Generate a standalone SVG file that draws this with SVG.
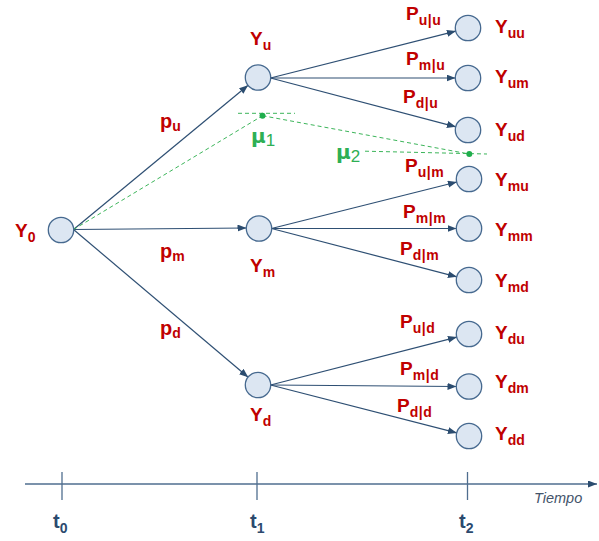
<svg xmlns="http://www.w3.org/2000/svg" width="599" height="541" viewBox="0 0 599 541">
<defs>
<marker id="arr" markerUnits="userSpaceOnUse" markerWidth="10" markerHeight="8" refX="9" refY="3.5" orient="auto">
<path d="M0,0 L9,3.5 L0,7 z" fill="#2b4c6f"/>
</marker>
<marker id="axarr" markerUnits="userSpaceOnUse" markerWidth="10" markerHeight="8" refX="9" refY="3.5" orient="auto">
<path d="M0,0 L9,3.5 L0,7 z" fill="#2b4c6f"/>
</marker>
</defs>
<style>
.nd{fill:#dce6f2;stroke:#46698f;stroke-width:1.3}
.ed{stroke:#2e4f73;stroke-width:1.2;fill:none;marker-end:url(#arr)}
.gr{stroke:#3cb55a;stroke-width:1;stroke-dasharray:4 3;fill:none}
.lb{font-family:"Liberation Sans",Arial,sans-serif;font-weight:bold;font-size:19px;fill:#c00000}
.pl{font-family:"Liberation Sans",Arial,sans-serif;font-weight:bold;font-size:20px;fill:#c00000}
.sb{font-size:14px}
.ps{font-size:14px;letter-spacing:0.6px}
.mu{font-family:"DejaVu Sans","Liberation Sans",sans-serif;font-weight:bold;font-size:20px;fill:#2eaf54}
.ms{font-family:"Liberation Sans",Arial,sans-serif;font-weight:normal;font-size:17px}
.tl{font-family:"Liberation Sans",Arial,sans-serif;font-weight:bold;font-size:20px;fill:#2c4a6e}
.ax{stroke:#4f6e8f;stroke-width:1.3;fill:none}
.tp{font-family:"Liberation Sans",Arial,sans-serif;font-style:italic;font-size:14.5px;fill:#44546a}
</style>

<g id="connectors">
<line class="ed" x1="73.5" y1="229.5" x2="248.1" y2="85.2"/>
<line class="ed" x1="73.5" y1="229.5" x2="246.5" y2="228"/>
<line class="ed" x1="73.5" y1="229.5" x2="248.2" y2="377.3"/>
<line class="ed" x1="270.5" y1="78" x2="455.9" y2="31.1"/>
<line class="ed" x1="270.5" y1="78" x2="455.5" y2="78"/>
<line class="ed" x1="270.5" y1="78" x2="455.9" y2="126.8"/>
<line class="ed" x1="271.5" y1="228.5" x2="456.9" y2="182"/>
<line class="ed" x1="271.5" y1="228.5" x2="456.5" y2="228.5"/>
<line class="ed" x1="271.5" y1="228.5" x2="456.9" y2="276.8"/>
<line class="ed" x1="270.5" y1="385" x2="456.9" y2="337.1"/>
<line class="ed" x1="270.5" y1="385" x2="456.5" y2="386.5"/>
<line class="ed" x1="270.5" y1="385" x2="456.9" y2="432.9"/>
</g>

<g id="expectations">
<line class="gr" x1="73.5" y1="229.5" x2="262.5" y2="115.7"/>
<line class="gr" x1="262.5" y1="115.7" x2="469.3" y2="154"/>
<line class="gr" x1="238" y1="113.3" x2="295" y2="113.3"/>
<line class="gr" x1="365" y1="151.2" x2="487" y2="154"/>
<circle cx="262.5" cy="115.7" r="3" fill="#1fae4c"/>
<circle cx="469.3" cy="154" r="3" fill="#1fae4c"/>
<text class="mu" x="251" y="143">μ<tspan class="ms" dy="3">1</tspan></text>
<text class="mu" x="336" y="159">μ<tspan class="ms" dy="3">2</tspan></text>
</g>

<g id="n-Y0"><circle class="nd" cx="61" cy="230" r="12.7"/><text class="lb" x="15" y="237">Y<tspan class="sb" dy="5">0</tspan></text></g>
<g id="n-Yu"><circle class="nd" cx="258" cy="77.5" r="12.7"/><text class="lb" x="250" y="45">Y<tspan class="sb" dy="5">u</tspan></text></g>
<g id="n-Ym"><circle class="nd" cx="259" cy="228.5" r="12.7"/><text class="lb" x="250" y="272">Y<tspan class="sb" dy="5">m</tspan></text></g>
<g id="n-Yd"><circle class="nd" cx="258" cy="385" r="12.7"/><text class="lb" x="250" y="421">Y<tspan class="sb" dy="5">d</tspan></text></g>

<g id="n-Yuu"><circle class="nd" cx="468" cy="28" r="12.7"/><text class="lb" x="495" y="33">Y<tspan class="sb" dy="5">uu</tspan></text></g>
<g id="n-Yum"><circle class="nd" cx="468" cy="78" r="12.7"/><text class="lb" x="495" y="83">Y<tspan class="sb" dy="5">um</tspan></text></g>
<g id="n-Yud"><circle class="nd" cx="468" cy="130" r="12.7"/><text class="lb" x="495" y="136">Y<tspan class="sb" dy="5">ud</tspan></text></g>
<g id="n-Ymu"><circle class="nd" cx="469" cy="179" r="12.7"/><text class="lb" x="495" y="186">Y<tspan class="sb" dy="5">mu</tspan></text></g>
<g id="n-Ymm"><circle class="nd" cx="469" cy="228.5" r="12.7"/><text class="lb" x="495" y="236">Y<tspan class="sb" dy="5">mm</tspan></text></g>
<g id="n-Ymd"><circle class="nd" cx="469" cy="280" r="12.7"/><text class="lb" x="495" y="287">Y<tspan class="sb" dy="5">md</tspan></text></g>
<g id="n-Ydu"><circle class="nd" cx="469" cy="334" r="12.7"/><text class="lb" x="495" y="339">Y<tspan class="sb" dy="5">du</tspan></text></g>
<g id="n-Ydm"><circle class="nd" cx="469" cy="386.5" r="12.7"/><text class="lb" x="495" y="388">Y<tspan class="sb" dy="5">dm</tspan></text></g>
<g id="n-Ydd"><circle class="nd" cx="469" cy="436" r="12.7"/><text class="lb" x="495" y="440">Y<tspan class="sb" dy="5">dd</tspan></text></g>

<g id="edge-labels">
<text class="pl" x="160" y="128">p<tspan class="sb" dy="3">u</tspan></text>
<text class="pl" x="160" y="258">p<tspan class="sb" dy="3">m</tspan></text>
<text class="pl" x="160" y="335">p<tspan class="sb" dy="3">d</tspan></text>
<text class="lb" x="406" y="20">P<tspan class="ps" dy="5">u|u</tspan></text>
<text class="lb" x="406" y="65">P<tspan class="ps" dy="5">m|u</tspan></text>
<text class="lb" x="403" y="103">P<tspan class="ps" dy="5">d|u</tspan></text>
<text class="lb" x="405" y="171.5">P<tspan class="ps" dy="5">u|m</tspan></text>
<text class="lb" x="403" y="218">P<tspan class="ps" dy="5">m|m</tspan></text>
<text class="lb" x="400" y="255">P<tspan class="ps" dy="5">d|m</tspan></text>
<text class="lb" x="400" y="328">P<tspan class="ps" dy="5">u|d</tspan></text>
<text class="lb" x="400" y="375">P<tspan class="ps" dy="5">m|d</tspan></text>
<text class="lb" x="397" y="411.5">P<tspan class="ps" dy="5">d|d</tspan></text>
</g>

<g id="time-axis">
<line class="ax" x1="25" y1="484" x2="597" y2="484" marker-end="url(#axarr)"/>
<line class="ax" x1="62" y1="472" x2="62" y2="500"/>
<line class="ax" x1="257" y1="472" x2="257" y2="500"/>
<line class="ax" x1="467.5" y1="472" x2="467.5" y2="500"/>
<text class="tl" x="53" y="528">t<tspan class="sb" dy="5">0</tspan></text>
<text class="tl" x="250" y="528">t<tspan class="sb" dy="5">1</tspan></text>
<text class="tl" x="459" y="528">t<tspan class="sb" dy="5">2</tspan></text>
<text class="tp" x="534" y="503">Tiempo</text>
</g>
</svg>
